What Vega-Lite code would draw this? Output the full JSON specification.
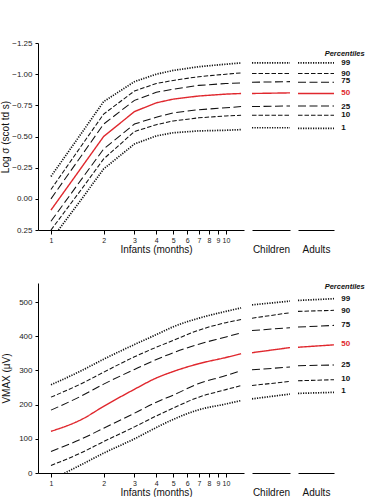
{
"$schema": "https://vega.github.io/schema/vega-lite/v6.json",
"padding": {"left": 0, "top": 39, "right": 0, "bottom": 0},
"columns": 3,
"align": "each",
"spacing": {"row": 29, "column": 8},
"resolve": {"scale": {"x": "independent", "y": "independent"}},
"datasets": {
"curves": [
{"p":"top","s":"inf","pct":"99","x":1,"v":-0.18},{"p":"top","s":"inf","pct":"99","x":1.5,"v":-0.53},{"p":"top","s":"inf","pct":"99","x":2,"v":-0.78},{"p":"top","s":"inf","pct":"99","x":3,"v":-0.94},{"p":"top","s":"inf","pct":"99","x":4,"v":-1.0},{"p":"top","s":"inf","pct":"99","x":5,"v":-1.03},{"p":"top","s":"inf","pct":"99","x":7,"v":-1.06},{"p":"top","s":"inf","pct":"99","x":10,"v":-1.08},{"p":"top","s":"inf","pct":"99","x":12.2,"v":-1.09},
{"p":"top","s":"inf","pct":"90","x":1,"v":-0.075},{"p":"top","s":"inf","pct":"90","x":1.5,"v":-0.43},{"p":"top","s":"inf","pct":"90","x":2,"v":-0.68},{"p":"top","s":"inf","pct":"90","x":3,"v":-0.865},{"p":"top","s":"inf","pct":"90","x":4,"v":-0.925},{"p":"top","s":"inf","pct":"90","x":5,"v":-0.95},{"p":"top","s":"inf","pct":"90","x":7,"v":-0.98},{"p":"top","s":"inf","pct":"90","x":10,"v":-1.0},{"p":"top","s":"inf","pct":"90","x":12.2,"v":-1.01},
{"p":"top","s":"inf","pct":"75","x":1,"v":0.0},{"p":"top","s":"inf","pct":"75","x":1.5,"v":-0.35},{"p":"top","s":"inf","pct":"75","x":2,"v":-0.6},{"p":"top","s":"inf","pct":"75","x":3,"v":-0.79},{"p":"top","s":"inf","pct":"75","x":4,"v":-0.855},{"p":"top","s":"inf","pct":"75","x":5,"v":-0.88},{"p":"top","s":"inf","pct":"75","x":7,"v":-0.91},{"p":"top","s":"inf","pct":"75","x":10,"v":-0.925},{"p":"top","s":"inf","pct":"75","x":12.2,"v":-0.93},
{"p":"top","s":"inf","pct":"50","x":1,"v":0.09},{"p":"top","s":"inf","pct":"50","x":1.5,"v":-0.255},{"p":"top","s":"inf","pct":"50","x":2,"v":-0.5},{"p":"top","s":"inf","pct":"50","x":3,"v":-0.7},{"p":"top","s":"inf","pct":"50","x":4,"v":-0.77},{"p":"top","s":"inf","pct":"50","x":5,"v":-0.8},{"p":"top","s":"inf","pct":"50","x":7,"v":-0.825},{"p":"top","s":"inf","pct":"50","x":10,"v":-0.84},{"p":"top","s":"inf","pct":"50","x":12.2,"v":-0.845},
{"p":"top","s":"inf","pct":"25","x":1,"v":0.18},{"p":"top","s":"inf","pct":"25","x":1.5,"v":-0.16},{"p":"top","s":"inf","pct":"25","x":2,"v":-0.4},{"p":"top","s":"inf","pct":"25","x":3,"v":-0.6},{"p":"top","s":"inf","pct":"25","x":4,"v":-0.655},{"p":"top","s":"inf","pct":"25","x":5,"v":-0.69},{"p":"top","s":"inf","pct":"25","x":7,"v":-0.715},{"p":"top","s":"inf","pct":"25","x":10,"v":-0.73},{"p":"top","s":"inf","pct":"25","x":12.2,"v":-0.74},
{"p":"top","s":"inf","pct":"10","x":1,"v":0.25},{"p":"top","s":"inf","pct":"10","x":1.5,"v":-0.08},{"p":"top","s":"inf","pct":"10","x":2,"v":-0.32},{"p":"top","s":"inf","pct":"10","x":3,"v":-0.54},{"p":"top","s":"inf","pct":"10","x":4,"v":-0.595},{"p":"top","s":"inf","pct":"10","x":5,"v":-0.625},{"p":"top","s":"inf","pct":"10","x":7,"v":-0.65},{"p":"top","s":"inf","pct":"10","x":10,"v":-0.665},{"p":"top","s":"inf","pct":"10","x":12.2,"v":-0.67},
{"p":"top","s":"inf","pct":"1","x":1,"v":0.33},{"p":"top","s":"inf","pct":"1","x":1.5,"v":0.0},{"p":"top","s":"inf","pct":"1","x":2,"v":-0.24},{"p":"top","s":"inf","pct":"1","x":3,"v":-0.44},{"p":"top","s":"inf","pct":"1","x":4,"v":-0.505},{"p":"top","s":"inf","pct":"1","x":5,"v":-0.53},{"p":"top","s":"inf","pct":"1","x":7,"v":-0.545},{"p":"top","s":"inf","pct":"1","x":10,"v":-0.55},{"p":"top","s":"inf","pct":"1","x":12.2,"v":-0.555},
{"p":"top","s":"chi","pct":"99","x":0,"v":-1.09},{"p":"top","s":"chi","pct":"99","x":1,"v":-1.09},
{"p":"top","s":"chi","pct":"90","x":0,"v":-1.005},{"p":"top","s":"chi","pct":"90","x":1,"v":-1.005},
{"p":"top","s":"chi","pct":"75","x":0,"v":-0.935},{"p":"top","s":"chi","pct":"75","x":1,"v":-0.94},
{"p":"top","s":"chi","pct":"50","x":0,"v":-0.845},{"p":"top","s":"chi","pct":"50","x":1,"v":-0.85},
{"p":"top","s":"chi","pct":"25","x":0,"v":-0.74},{"p":"top","s":"chi","pct":"25","x":1,"v":-0.745},
{"p":"top","s":"chi","pct":"10","x":0,"v":-0.67},{"p":"top","s":"chi","pct":"10","x":1,"v":-0.67},
{"p":"top","s":"chi","pct":"1","x":0,"v":-0.57},{"p":"top","s":"chi","pct":"1","x":1,"v":-0.57},
{"p":"top","s":"adu","pct":"99","x":0,"v":-1.09},{"p":"top","s":"adu","pct":"99","x":1,"v":-1.09},
{"p":"top","s":"adu","pct":"90","x":0,"v":-1.005},{"p":"top","s":"adu","pct":"90","x":1,"v":-1.005},
{"p":"top","s":"adu","pct":"75","x":0,"v":-0.935},{"p":"top","s":"adu","pct":"75","x":1,"v":-0.935},
{"p":"top","s":"adu","pct":"50","x":0,"v":-0.845},{"p":"top","s":"adu","pct":"50","x":1,"v":-0.845},
{"p":"top","s":"adu","pct":"25","x":0,"v":-0.745},{"p":"top","s":"adu","pct":"25","x":1,"v":-0.745},
{"p":"top","s":"adu","pct":"10","x":0,"v":-0.67},{"p":"top","s":"adu","pct":"10","x":1,"v":-0.67},
{"p":"top","s":"adu","pct":"1","x":0,"v":-0.565},{"p":"top","s":"adu","pct":"1","x":1,"v":-0.565},
{"p":"bot","s":"inf","pct":"99","x":1,"v":258},{"p":"bot","s":"inf","pct":"99","x":1.5,"v":300},{"p":"bot","s":"inf","pct":"99","x":2,"v":333},{"p":"bot","s":"inf","pct":"99","x":3,"v":376},{"p":"bot","s":"inf","pct":"99","x":4,"v":405},{"p":"bot","s":"inf","pct":"99","x":5,"v":428},{"p":"bot","s":"inf","pct":"99","x":7,"v":453},{"p":"bot","s":"inf","pct":"99","x":10,"v":473},{"p":"bot","s":"inf","pct":"99","x":12.2,"v":483},
{"p":"bot","s":"inf","pct":"90","x":1,"v":222},{"p":"bot","s":"inf","pct":"90","x":1.5,"v":262},{"p":"bot","s":"inf","pct":"90","x":2,"v":295},{"p":"bot","s":"inf","pct":"90","x":3,"v":340},{"p":"bot","s":"inf","pct":"90","x":4,"v":368},{"p":"bot","s":"inf","pct":"90","x":5,"v":388},{"p":"bot","s":"inf","pct":"90","x":7,"v":418},{"p":"bot","s":"inf","pct":"90","x":10,"v":440},{"p":"bot","s":"inf","pct":"90","x":12.2,"v":449},
{"p":"bot","s":"inf","pct":"75","x":1,"v":184},{"p":"bot","s":"inf","pct":"75","x":1.5,"v":226},{"p":"bot","s":"inf","pct":"75","x":2,"v":260},{"p":"bot","s":"inf","pct":"75","x":3,"v":303},{"p":"bot","s":"inf","pct":"75","x":4,"v":332},{"p":"bot","s":"inf","pct":"75","x":5,"v":352},{"p":"bot","s":"inf","pct":"75","x":7,"v":377},{"p":"bot","s":"inf","pct":"75","x":10,"v":398},{"p":"bot","s":"inf","pct":"75","x":12.2,"v":410},
{"p":"bot","s":"inf","pct":"50","x":1,"v":122},{"p":"bot","s":"inf","pct":"50","x":1.5,"v":157},{"p":"bot","s":"inf","pct":"50","x":2,"v":195},{"p":"bot","s":"inf","pct":"50","x":3,"v":245},{"p":"bot","s":"inf","pct":"50","x":4,"v":278},{"p":"bot","s":"inf","pct":"50","x":5,"v":297},{"p":"bot","s":"inf","pct":"50","x":7,"v":320},{"p":"bot","s":"inf","pct":"50","x":10,"v":338},{"p":"bot","s":"inf","pct":"50","x":12.2,"v":349},
{"p":"bot","s":"inf","pct":"25","x":1,"v":63},{"p":"bot","s":"inf","pct":"25","x":1.5,"v":100},{"p":"bot","s":"inf","pct":"25","x":2,"v":131},{"p":"bot","s":"inf","pct":"25","x":3,"v":175},{"p":"bot","s":"inf","pct":"25","x":4,"v":207},{"p":"bot","s":"inf","pct":"25","x":5,"v":228},{"p":"bot","s":"inf","pct":"25","x":7,"v":262},{"p":"bot","s":"inf","pct":"25","x":10,"v":285},{"p":"bot","s":"inf","pct":"25","x":12.2,"v":300},
{"p":"bot","s":"inf","pct":"10","x":1,"v":22},{"p":"bot","s":"inf","pct":"10","x":1.5,"v":60},{"p":"bot","s":"inf","pct":"10","x":2,"v":92},{"p":"bot","s":"inf","pct":"10","x":3,"v":135},{"p":"bot","s":"inf","pct":"10","x":4,"v":167},{"p":"bot","s":"inf","pct":"10","x":5,"v":190},{"p":"bot","s":"inf","pct":"10","x":7,"v":222},{"p":"bot","s":"inf","pct":"10","x":10,"v":244},{"p":"bot","s":"inf","pct":"10","x":12.2,"v":256},
{"p":"bot","s":"inf","pct":"1","x":1,"v":-20},{"p":"bot","s":"inf","pct":"1","x":1.5,"v":25},{"p":"bot","s":"inf","pct":"1","x":2,"v":58},{"p":"bot","s":"inf","pct":"1","x":3,"v":100},{"p":"bot","s":"inf","pct":"1","x":4,"v":133},{"p":"bot","s":"inf","pct":"1","x":5,"v":157},{"p":"bot","s":"inf","pct":"1","x":7,"v":185},{"p":"bot","s":"inf","pct":"1","x":10,"v":202},{"p":"bot","s":"inf","pct":"1","x":12.2,"v":212},
{"p":"bot","s":"chi","pct":"99","x":0,"v":492},{"p":"bot","s":"chi","pct":"99","x":1,"v":503},
{"p":"bot","s":"chi","pct":"90","x":0,"v":453},{"p":"bot","s":"chi","pct":"90","x":1,"v":469},
{"p":"bot","s":"chi","pct":"75","x":0,"v":417},{"p":"bot","s":"chi","pct":"75","x":1,"v":425},
{"p":"bot","s":"chi","pct":"50","x":0,"v":352},{"p":"bot","s":"chi","pct":"50","x":1,"v":367},
{"p":"bot","s":"chi","pct":"25","x":0,"v":302},{"p":"bot","s":"chi","pct":"25","x":1,"v":310},
{"p":"bot","s":"chi","pct":"10","x":0,"v":256},{"p":"bot","s":"chi","pct":"10","x":1,"v":268},
{"p":"bot","s":"chi","pct":"1","x":0,"v":217},{"p":"bot","s":"chi","pct":"1","x":1,"v":231},
{"p":"bot","s":"adu","pct":"99","x":0,"v":505},{"p":"bot","s":"adu","pct":"99","x":1,"v":510},
{"p":"bot","s":"adu","pct":"90","x":0,"v":473},{"p":"bot","s":"adu","pct":"90","x":1,"v":476},
{"p":"bot","s":"adu","pct":"75","x":0,"v":427},{"p":"bot","s":"adu","pct":"75","x":1,"v":432},
{"p":"bot","s":"adu","pct":"50","x":0,"v":368},{"p":"bot","s":"adu","pct":"50","x":1,"v":375},
{"p":"bot","s":"adu","pct":"25","x":0,"v":314},{"p":"bot","s":"adu","pct":"25","x":1,"v":316},
{"p":"bot","s":"adu","pct":"10","x":0,"v":270},{"p":"bot","s":"adu","pct":"10","x":1,"v":273},
{"p":"bot","s":"adu","pct":"1","x":0,"v":233},{"p":"bot","s":"adu","pct":"1","x":1,"v":236}
],
"labels": [
{"p":"top","pct":"99","x":1.2,"v":-1.09},{"p":"top","pct":"90","x":1.2,"v":-1.005},{"p":"top","pct":"75","x":1.2,"v":-0.945},{"p":"top","pct":"50","x":1.2,"v":-0.845},{"p":"top","pct":"25","x":1.2,"v":-0.74},{"p":"top","pct":"10","x":1.2,"v":-0.67},{"p":"top","pct":"1","x":1.2,"v":-0.565},
{"p":"bot","pct":"99","x":1.2,"v":510},{"p":"bot","pct":"90","x":1.2,"v":475},{"p":"bot","pct":"75","x":1.2,"v":434},{"p":"bot","pct":"50","x":1.2,"v":377},{"p":"bot","pct":"25","x":1.2,"v":316},{"p":"bot","pct":"10","x":1.2,"v":275},{"p":"bot","pct":"1","x":1.2,"v":240}
],
"heads": [
{"p":"top","x":0.74,"v":-1.162,"t":"Percentiles"},
{"p":"bot","x":0.74,"v":543,"t":"Percentiles"}
]
},
"concat": [
{
"width": 206, "height": 187,
"data": {"name": "curves"},
"transform": [{"filter": "datum.p == 'top' && datum.s == 'inf'"}],
"mark": {"type": "line", "clip": true, "strokeCap": "butt"},
"encoding": {
"x": {"field": "x", "type": "quantitative", "scale": {"type": "log", "domain": [0.843, 12.68], "nice": false}, "axis": {"values": [1,2,3,4,5,6,7,8,9,10], "format": "d", "labelOverlap": false, "labelFontSize": 7, "tickSize": 4, "labelPadding": 2, "title": "Infants (months)", "titlePadding": 1, "titleX": 118}},
"y": {"field": "v", "type": "quantitative", "scale": {"domain": [-1.25, 0.25], "reverse": true, "nice": false, "zero": false}, "axis": {"values": [-1.25,-1,-0.75,-0.5,-0.25,0,0.25], "format": ".2f", "tickSize": 3, "labelPadding": 3, "title": "Log σ (scot td s)", "titlePadding": 1}},
"color": {"field": "pct", "type": "nominal", "scale": {"domain": ["99","90","75","50","25","10","1"], "range": ["#111111","#111111","#111111","#e0282e","#111111","#111111","#111111"]}, "legend": null},
"strokeDash": {"field": "pct", "type": "nominal", "scale": {"domain": ["99","90","75","50","25","10","1"], "range": [[1.2,1.3],[4.5,2],[8,3.5],[1,0],[8,3.5],[4.5,2],[1.2,1.3]]}, "legend": null},
"strokeWidth": {"condition": [{"test": "datum.pct == '99' || datum.pct == '1'", "value": 1.7}, {"test": "datum.pct == '50'", "value": 1.4}], "value": 1.05}
}
},
{
"width": 38, "height": 187,
"data": {"name": "curves"},
"transform": [{"filter": "datum.p == 'top' && datum.s == 'chi'"}],
"mark": {"type": "line", "clip": true, "strokeCap": "butt"},
"encoding": {
"x": {"field": "x", "type": "quantitative", "scale": {"domain": [0, 1], "nice": false}, "axis": {"labels": false, "ticks": false, "title": "Children", "titlePadding": 14}},
"y": {"field": "v", "type": "quantitative", "scale": {"domain": [-1.25, 0.25], "reverse": true, "nice": false, "zero": false}, "axis": null},
"color": {"field": "pct", "type": "nominal", "legend": null},
"strokeDash": {"field": "pct", "type": "nominal", "legend": null},
"strokeWidth": {"condition": [{"test": "datum.pct == '99' || datum.pct == '1'", "value": 1.7}, {"test": "datum.pct == '50'", "value": 1.4}], "value": 1.05}
}
},
{
"width": 36, "height": 187,
"layer": [
{
"data": {"name": "curves"},
"transform": [{"filter": "datum.p == 'top' && datum.s == 'adu'"}],
"mark": {"type": "line", "clip": true, "strokeCap": "butt"},
"encoding": {
"x": {"field": "x", "type": "quantitative", "scale": {"domain": [0, 1], "nice": false}, "axis": {"labels": false, "ticks": false, "title": "Adults", "titlePadding": 14}},
"y": {"field": "v", "type": "quantitative", "scale": {"domain": [-1.25, 0.25], "reverse": true, "nice": false, "zero": false}, "axis": null},
"color": {"field": "pct", "type": "nominal", "legend": null},
"strokeDash": {"field": "pct", "type": "nominal", "legend": null},
"strokeWidth": {"condition": [{"test": "datum.pct == '99' || datum.pct == '1'", "value": 1.7}, {"test": "datum.pct == '50'", "value": 1.4}], "value": 1.05}
}
},
{
"data": {"name": "labels"},
"transform": [{"filter": "datum.p == 'top'"}],
"mark": {"type": "text", "align": "left", "baseline": "middle", "fontSize": 8, "fontWeight": "bold", "font": "Liberation Sans"},
"encoding": {
"x": {"field": "x", "type": "quantitative"},
"y": {"field": "v", "type": "quantitative"},
"text": {"field": "pct"},
"color": {"field": "pct", "type": "nominal", "legend": null}
}
},
{
"data": {"name": "heads"},
"transform": [{"filter": "datum.p == 'top'"}],
"mark": {"type": "text", "align": "left", "baseline": "middle", "fontSize": 7.5, "fontWeight": "bold", "fontStyle": "italic", "font": "Liberation Sans", "color": "#111111"},
"encoding": {
"x": {"field": "x", "type": "quantitative"},
"y": {"field": "v", "type": "quantitative"},
"text": {"field": "t"}
}
}
]
},
{
"width": 206, "height": 190,
"data": {"name": "curves"},
"transform": [{"filter": "datum.p == 'bot' && datum.s == 'inf'"}],
"mark": {"type": "line", "clip": true, "strokeCap": "butt", "interpolate": "monotone"},
"encoding": {
"x": {"field": "x", "type": "quantitative", "scale": {"type": "log", "domain": [0.843, 12.68], "nice": false}, "axis": {"values": [1,2,3,4,5,6,7,8,9,10], "format": "d", "labelOverlap": false, "labelFontSize": 7, "tickSize": 4, "labelPadding": 2, "title": "Infants (months)", "titlePadding": 1, "titleX": 118}},
"y": {"field": "v", "type": "quantitative", "scale": {"domain": [0, 556], "nice": false, "zero": false}, "axis": {"values": [0,100,200,300,400,500], "tickSize": 3, "labelPadding": 3, "title": "VMAX (μV)", "titlePadding": 7}},
"color": {"field": "pct", "type": "nominal", "legend": null},
"strokeDash": {"field": "pct", "type": "nominal", "legend": null},
"strokeWidth": {"condition": [{"test": "datum.pct == '99' || datum.pct == '1'", "value": 1.7}, {"test": "datum.pct == '50'", "value": 1.4}], "value": 1.05}
}
},
{
"width": 38, "height": 190,
"data": {"name": "curves"},
"transform": [{"filter": "datum.p == 'bot' && datum.s == 'chi'"}],
"mark": {"type": "line", "clip": true, "strokeCap": "butt"},
"encoding": {
"x": {"field": "x", "type": "quantitative", "scale": {"domain": [0, 1], "nice": false}, "axis": {"labels": false, "ticks": false, "title": "Children", "titlePadding": 14}},
"y": {"field": "v", "type": "quantitative", "scale": {"domain": [0, 556], "nice": false, "zero": false}, "axis": null},
"color": {"field": "pct", "type": "nominal", "legend": null},
"strokeDash": {"field": "pct", "type": "nominal", "legend": null},
"strokeWidth": {"condition": [{"test": "datum.pct == '99' || datum.pct == '1'", "value": 1.7}, {"test": "datum.pct == '50'", "value": 1.4}], "value": 1.05}
}
},
{
"width": 36, "height": 190,
"layer": [
{
"data": {"name": "curves"},
"transform": [{"filter": "datum.p == 'bot' && datum.s == 'adu'"}],
"mark": {"type": "line", "clip": true, "strokeCap": "butt"},
"encoding": {
"x": {"field": "x", "type": "quantitative", "scale": {"domain": [0, 1], "nice": false}, "axis": {"labels": false, "ticks": false, "title": "Adults", "titlePadding": 14}},
"y": {"field": "v", "type": "quantitative", "scale": {"domain": [0, 556], "nice": false, "zero": false}, "axis": null},
"color": {"field": "pct", "type": "nominal", "legend": null},
"strokeDash": {"field": "pct", "type": "nominal", "legend": null},
"strokeWidth": {"condition": [{"test": "datum.pct == '99' || datum.pct == '1'", "value": 1.7}, {"test": "datum.pct == '50'", "value": 1.4}], "value": 1.05}
}
},
{
"data": {"name": "labels"},
"transform": [{"filter": "datum.p == 'bot'"}],
"mark": {"type": "text", "align": "left", "baseline": "middle", "fontSize": 8, "fontWeight": "bold", "font": "Liberation Sans"},
"encoding": {
"x": {"field": "x", "type": "quantitative"},
"y": {"field": "v", "type": "quantitative"},
"text": {"field": "pct"},
"color": {"field": "pct", "type": "nominal", "legend": null}
}
},
{
"data": {"name": "heads"},
"transform": [{"filter": "datum.p == 'bot'"}],
"mark": {"type": "text", "align": "left", "baseline": "middle", "fontSize": 7.5, "fontWeight": "bold", "fontStyle": "italic", "font": "Liberation Sans", "color": "#111111"},
"encoding": {
"x": {"field": "x", "type": "quantitative"},
"y": {"field": "v", "type": "quantitative"},
"text": {"field": "t"}
}
}
]
}
],
"config": {
"view": {"stroke": null},
"font": "Liberation Sans",
"axis": {"grid": false, "domainColor": "#000000", "tickColor": "#000000", "labelColor": "#222222", "titleColor": "#111111", "labelFontSize": 8, "titleFontSize": 10, "titleFontWeight": "normal", "labelFont": "Liberation Sans", "titleFont": "Liberation Sans"}
}
}
